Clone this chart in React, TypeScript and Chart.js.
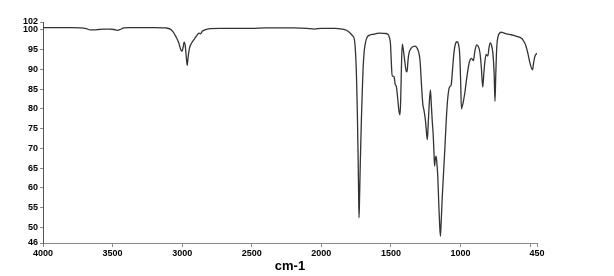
import React, { useEffect, useRef } from "react";
import { Chart, registerables } from "chart.js";

Chart.register(...registerables);

// Wavenumbers (cm-1) and % transmittance
const wavenumbers: number[] = [
  4000, 3900, 3800, 3730, 3690, 3660, 3630, 3600, 3560, 3520, 3490, 3465, 3445, 3420, 3380, 3300, 3200, 3120,
  3085, 3065, 3045, 3025, 3010, 3000, 2993, 2986, 2978, 2970, 2964, 2958, 2948, 2930, 2910, 2890, 2878, 2868,
  2854, 2837, 2800, 2730, 2600, 2500, 2400, 2300, 2200, 2100, 2050, 2000, 1900, 1850, 1820, 1795, 1775, 1762,
  1753, 1747, 1741, 1736, 1732, 1729, 1726, 1720, 1712, 1705, 1700, 1692, 1683, 1670, 1650, 1620, 1600, 1580,
  1545, 1521, 1510, 1503, 1497, 1491, 1483, 1476, 1469, 1461, 1452, 1442, 1434, 1429, 1424, 1418, 1410, 1400,
  1390, 1384, 1377, 1370, 1355, 1340, 1326, 1312, 1300, 1290, 1280, 1270, 1263, 1257, 1250, 1244, 1238, 1232,
  1224, 1216, 1210, 1203, 1196, 1190, 1186, 1181, 1175, 1169, 1163, 1156, 1150, 1144, 1139, 1131, 1122, 1112,
  1102, 1092, 1083, 1074, 1066, 1057, 1047, 1036, 1024, 1014, 1006, 999, 993, 988, 983, 977, 968, 958, 945,
  935, 922, 915, 907, 897, 884, 872, 860, 850, 840, 832, 825, 815, 808, 803, 795, 786, 776, 767, 758, 752, 746,
  739, 730, 719, 705, 695, 670, 640, 624, 590, 560, 548, 540, 530, 516, 500, 482, 475, 466, 450,
];

const transmittance: number[] = [
  100.6, 100.6, 100.6, 100.5, 100.3, 100.0, 100.0, 100.1, 100.2, 100.2, 100.1, 99.9, 100.1, 100.5, 100.6, 100.6,
  100.6, 100.5, 100.2, 99.5, 98.3, 96.8, 95.0, 94.6, 95.6, 96.9, 96.0, 93.0, 91.0, 92.8, 95.3, 96.8, 97.8, 98.8,
  99.2, 99.0, 99.7, 100.0, 100.3, 100.4, 100.4, 100.4, 100.5, 100.5, 100.5, 100.4, 100.2, 100.4, 100.4, 100.2,
  99.9, 99.3, 98.5, 97.5, 93.5, 88, 79, 68.8, 59, 52.4, 56, 66, 77.2, 85, 90, 94.5, 96.7, 98.2, 98.7, 98.9, 99.1,
  99.2, 99.1, 98.9, 98.0, 96.5, 92, 88.3, 88.3, 88.0, 86.2, 85.7, 83, 79.5, 78.5, 83, 91, 96.4, 94.8, 92, 89.6,
  89.4, 92.2, 94.1, 95.3, 95.8, 95.9, 95.4, 94.3, 92, 86, 81, 79.8, 78.5, 76.5, 74, 72.2, 76, 81.5, 84.8, 81.5,
  77, 73.5, 68.5, 65.5, 67.2, 68, 66, 62.9, 56, 51, 47.7, 51, 57.5, 63.5, 70, 77.2, 82.5, 85, 85.7, 86.2, 90,
  94.1, 96.5, 97.0, 96.3, 94.1, 87.5, 80, 80.6, 81.2, 82.3, 84.2, 87, 90.2, 92.0, 92.8, 92.6, 92.2, 94.5, 96.2,
  95.8, 94.2, 90.5, 85.5, 89, 91.8, 93.8, 93.5, 93.4, 95.5, 96.7, 96, 94.1, 89, 81.9, 89, 95.8, 98.3, 99.2,
  99.4, 99.3, 99.0, 98.8, 98.7, 98.3, 97.8, 97.3, 96.8, 96, 94.1, 91.5, 89.9, 91.5, 93.2, 94.1,
];

const xTicks: number[] = [4000, 3500, 3000, 2500, 2000, 1500, 1000, 500, 450];
const xTickLabels: string[] = ["4000", "3500", "3000", "2500", "2000", "1500", "1000", "", "450"];
const yTicks: number[] = [46, 50, 55, 60, 65, 70, 75, 80, 85, 90, 95, 100, 102];

export default function App() {
  const canvasRef = useRef<HTMLCanvasElement | null>(null);

  useEffect(() => {
    const canvas = canvasRef.current;
    if (!canvas) return;
    const points = wavenumbers.map((w, i) => ({ x: w, y: transmittance[i] }));
    const tickFont = { family: "Arial, 'Liberation Sans', sans-serif", size: 9, weight: "bold" as const };
    const axisColor = "#8a8a8a";

    const chart = new Chart(canvas, {
      type: "line",
      data: {
        datasets: [
          {
            data: points,
            borderColor: "#333333",
            borderWidth: 1.3,
            pointRadius: 0,
            fill: false,
            cubicInterpolationMode: "monotone",
          },
        ],
      },
      options: {
        animation: false,
        responsive: false,
        devicePixelRatio: 1,
        layout: { padding: { left: 0, right: 77, top: 22, bottom: 0 } },
        plugins: { legend: { display: false }, tooltip: { enabled: false } },
        scales: {
          x: {
            type: "linear",
            reverse: true,
            min: 450,
            max: 4000,
            afterBuildTicks: (scale: any) => {
              scale.ticks = xTicks.map((v) => ({ value: v }));
            },
            afterFit: (scale: any) => {
              scale.height = 33;
            },
            ticks: {
              autoSkip: false,
              maxRotation: 0,
              padding: 1,
              color: "#000",
              font: tickFont,
              callback: (value: any) => {
                const idx = xTicks.indexOf(Number(value));
                return idx >= 0 ? xTickLabels[idx] : "";
              },
            },
            grid: { display: true, drawOnChartArea: false, drawTicks: true, tickLength: 4, color: axisColor },
            border: { display: true, color: axisColor, width: 1 },
            title: {
              display: true,
              text: "cm-1",
              color: "#000",
              font: { family: "Arial, 'Liberation Sans', sans-serif", size: 13, weight: "bold" },
              padding: { top: 0, bottom: 2 },
            },
          },
          y: {
            type: "linear",
            min: 46,
            max: 102,
            afterBuildTicks: (scale: any) => {
              scale.ticks = yTicks.map((v) => ({ value: v }));
            },
            afterFit: (scale: any) => {
              scale.width = 43;
            },
            ticks: {
              autoSkip: false,
              padding: 2,
              color: "#000",
              font: tickFont,
            },
            grid: { display: true, drawOnChartArea: false, drawTicks: true, tickLength: 3, color: axisColor },
            border: { display: true, color: "#555", width: 1 },
          },
        },
      },
    });
    return () => chart.destroy();
  }, []);

  return (
    <div style={{ position: "absolute", left: 0, top: 0, width: 614, height: 276, background: "#fff" }}>
      <canvas ref={canvasRef} width={614} height={276} style={{ display: "block", width: 614, height: 276 }} />
    </div>
  );
}
